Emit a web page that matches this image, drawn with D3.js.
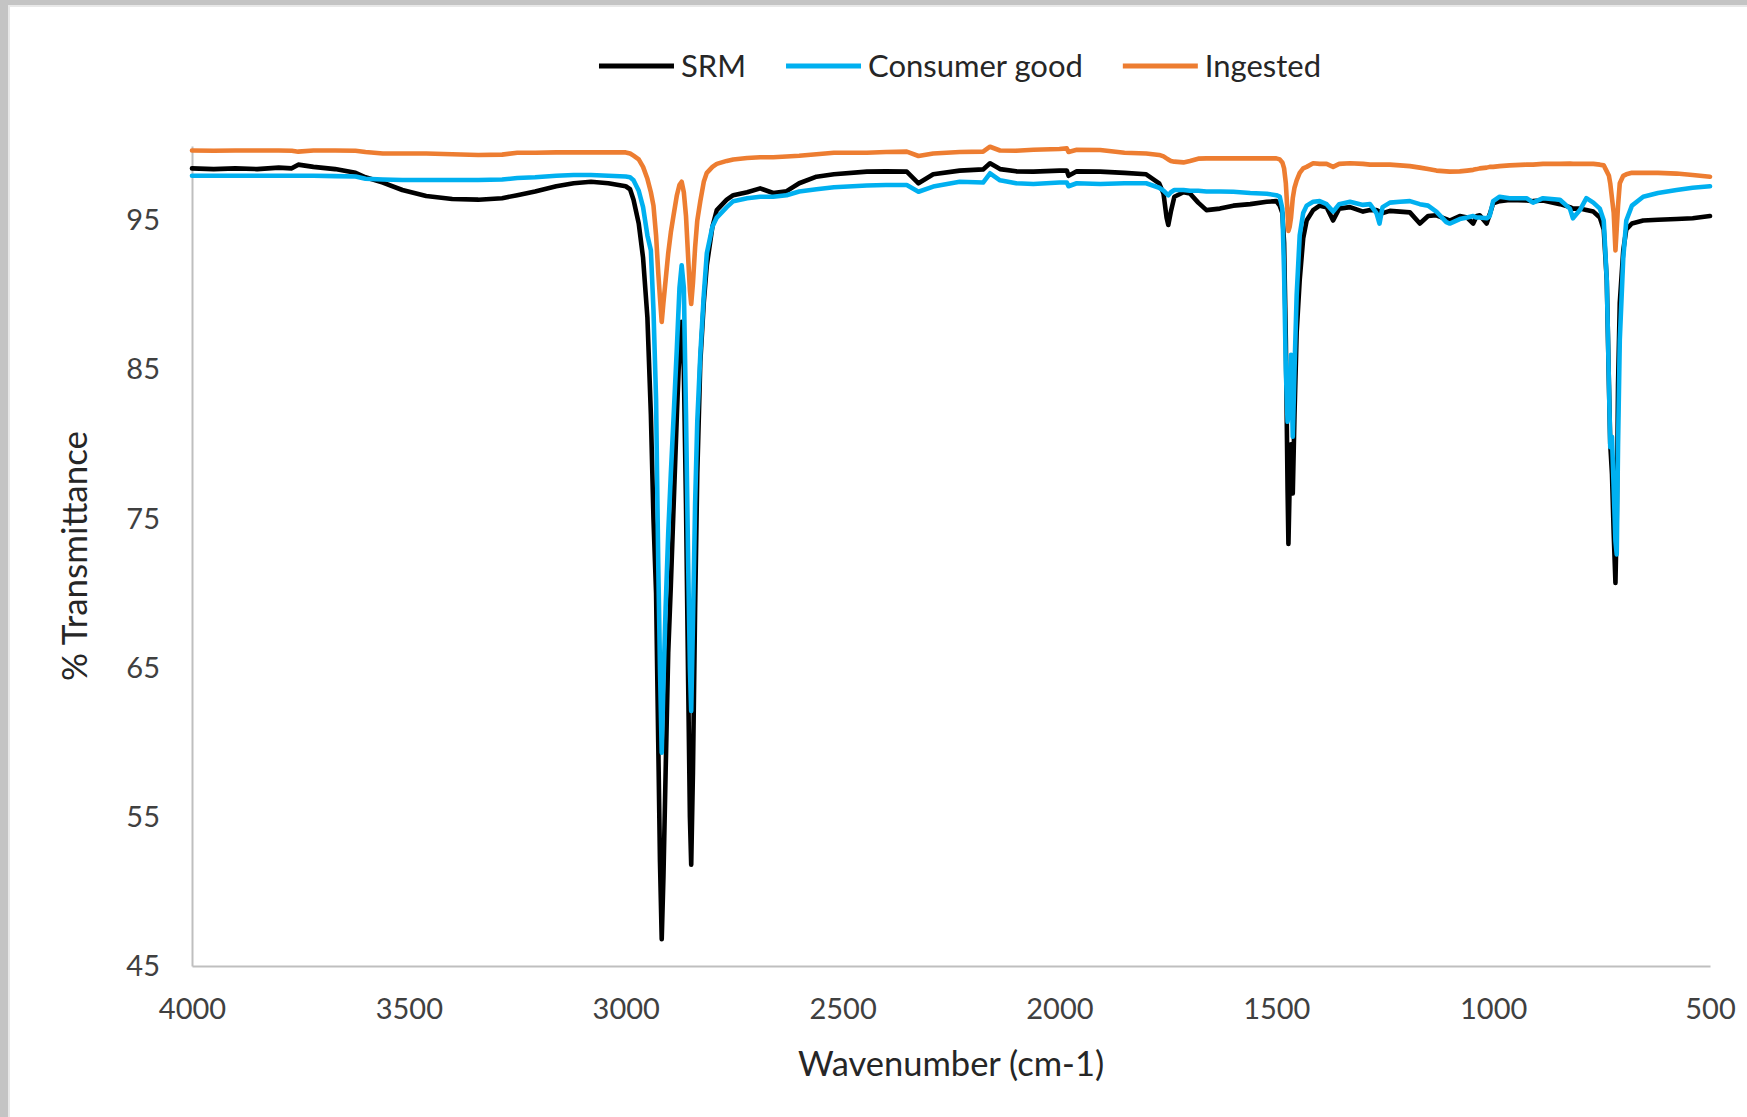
<!DOCTYPE html>
<html>
<head>
<meta charset="utf-8">
<script src="https://cdn.jsdelivr.net/npm/d3@7"></script>
<style>
  html, body { margin: 0; padding: 0; background: #fff; }
  svg { display: block; font-family: Lato, 'Open Sans', sans-serif; }
</style>
</head>
<body>
<div id="chart"></div>
<script>
/*
* FTIR spectra: SRM vs consumer good vs ingested
*/

const wavenumber = [
  4000, 3950, 3900, 3850, 3800, 3770, 3755, 3720, 3670, 3623, 3600, 3560, 3515, 3460, 3400, 3340, 3285, 3250, 3209, 3160,
  3120, 3080, 3040, 3000, 2990, 2982, 2970, 2960, 2950, 2942, 2936, 2930, 2925, 2921, 2917, 2913, 2908, 2902, 2896, 2890,
  2882, 2876, 2871, 2866, 2861, 2856, 2852, 2849, 2845, 2840, 2835, 2828, 2820, 2813, 2800, 2790, 2767, 2752, 2720, 2690,
  2660, 2629, 2600, 2560, 2520, 2444, 2400, 2352, 2325, 2291, 2230, 2176, 2160, 2137, 2100, 2060, 2000, 1983, 1979, 1960,
  1906, 1850, 1800, 1770, 1760, 1753, 1749, 1743, 1735, 1714, 1699, 1680, 1661, 1630, 1599, 1560, 1522, 1500, 1492, 1486,
  1482, 1478, 1474, 1472, 1469, 1466, 1462, 1458, 1453, 1446, 1438, 1430, 1415, 1400, 1384, 1369, 1355, 1330, 1300, 1284,
  1269, 1262, 1255, 1238, 1215, 1192, 1169, 1150, 1131, 1108, 1100, 1077, 1060, 1046, 1038, 1031, 1015, 1008, 1000, 985,
  962, 923, 908, 885, 846, 823, 816, 800, 785, 769, 754, 745, 738, 733, 730, 726, 722, 718, 715, 712,
  708, 700, 693, 680, 654, 620, 577, 540, 500
];

const srm = [
  98.5, 98.45, 98.5, 98.45, 98.55, 98.5, 98.75, 98.6, 98.45, 98.2, 97.9, 97.55, 97.05, 96.65, 96.45, 96.4, 96.5, 96.7, 96.95, 97.3,
  97.5, 97.6, 97.5, 97.3, 97.1, 96.4, 94.8, 92.5, 88.5, 82.0, 75.0, 70.0, 60.0, 52.0, 46.8, 51.0, 58.0, 66.0, 70.5, 75.5,
  82.0, 86.5, 88.2, 85.0, 76.0, 64.0, 55.0, 51.8, 58.0, 69.0, 78.0, 85.5, 89.5, 92.0, 94.6, 95.7, 96.4, 96.7, 96.9, 97.16,
  96.85, 96.97, 97.5, 97.94, 98.1, 98.28, 98.3, 98.28, 97.5, 98.1, 98.35, 98.43, 98.84, 98.45, 98.3, 98.28, 98.35, 98.35, 98.0, 98.3,
  98.28, 98.2, 98.1, 97.5, 96.8, 95.2, 94.7, 95.6, 96.6, 96.9, 96.82, 96.2, 95.7, 95.8, 96.0, 96.1, 96.26, 96.3, 96.0, 95.5,
  93.5, 87.0, 77.0, 73.3, 77.5, 80.0, 76.7, 82.0, 87.5, 91.0, 93.8, 95.0, 95.7, 96.0, 95.9, 95.0, 95.8, 95.9, 95.6, 95.7,
  95.7, 95.6, 95.5, 95.65, 95.6, 95.55, 94.8, 95.3, 95.35, 95.1, 95.0, 95.3, 95.2, 94.8, 95.3, 95.35, 94.8, 95.4, 96.15, 96.3,
  96.38, 96.35, 96.3, 96.35, 96.1, 95.9, 95.8, 95.8, 95.7, 95.6, 95.2, 94.4, 91.0, 84.0, 80.0, 78.0, 74.0, 70.7, 75.0, 84.0,
  89.5, 93.0, 94.4, 94.8, 95.0, 95.05, 95.1, 95.15, 95.3
];

const consumerGood = [
  98.0, 98.0, 98.0, 98.0, 98.0, 98.0, 98.0, 98.0, 97.98, 97.95, 97.8, 97.75, 97.72, 97.72, 97.72, 97.72, 97.75, 97.85, 97.9, 98.0,
  98.05, 98.05, 98.0, 97.95, 97.9, 97.7, 97.0, 95.9, 94.0, 93.0, 89.0, 83.0, 72.0, 65.0, 59.3, 64.0, 69.0, 74.0, 78.0, 81.6,
  86.5, 90.5, 92.0, 90.5, 82.0, 72.0, 65.0, 62.1, 68.0, 76.0, 81.5, 86.0, 90.0, 92.8, 94.6, 95.2, 95.9, 96.3, 96.5, 96.6,
  96.6, 96.7, 96.95, 97.1, 97.23, 97.35, 97.38, 97.38, 96.93, 97.28, 97.6, 97.55, 98.17, 97.7, 97.5, 97.45, 97.55, 97.55, 97.3, 97.5,
  97.45, 97.5, 97.5, 97.2, 97.0, 96.8, 96.7, 96.9, 97.05, 97.05, 97.0, 97.0, 96.95, 96.95, 96.93, 96.85, 96.8, 96.7, 96.6, 95.8,
  91.5, 85.0, 81.5, 82.0, 84.0, 86.0, 80.5, 85.0, 90.0, 94.0, 95.5, 96.0, 96.26, 96.3, 96.1, 95.6, 96.1, 96.26, 96.05, 96.1,
  95.5, 94.8, 95.9, 96.2, 96.26, 96.3, 96.1, 96.0, 95.6, 94.9, 94.8, 95.1, 95.2, 95.3, 95.2, 95.2, 95.15, 95.3, 96.3, 96.6,
  96.5, 96.5, 96.2, 96.5, 96.4, 95.8, 95.15, 95.7, 96.5, 96.2, 95.8, 95.0, 91.0, 84.0, 79.8, 80.5, 77.0, 73.5, 72.6, 80.0,
  87.0, 92.5, 95.0, 96.0, 96.6, 96.85, 97.05, 97.2, 97.3
];

const ingested = [
  99.7, 99.68, 99.7, 99.7, 99.7, 99.68, 99.62, 99.7, 99.7, 99.68, 99.6, 99.5, 99.5, 99.5, 99.45, 99.4, 99.42, 99.55, 99.55, 99.57,
  99.57, 99.57, 99.57, 99.57, 99.5, 99.35, 99.1, 98.6, 97.8, 96.9, 96.0, 94.0, 91.5, 89.8, 88.2, 89.5, 91.0, 92.8, 94.2, 95.3,
  96.7, 97.4, 97.6, 96.9, 95.3, 92.5, 90.3, 89.4, 90.8, 93.2, 95.0, 96.3, 97.6, 98.2, 98.6, 98.8, 99.0, 99.1, 99.2, 99.25,
  99.25, 99.3, 99.35, 99.45, 99.55, 99.55, 99.6, 99.62, 99.33, 99.5, 99.6, 99.62, 99.95, 99.7, 99.68, 99.75, 99.8, 99.84, 99.6, 99.75,
  99.73, 99.55, 99.5, 99.4, 99.3, 99.17, 99.1, 99.0, 98.95, 98.9, 99.0, 99.15, 99.17, 99.17, 99.17, 99.17, 99.17, 99.17, 99.1, 98.9,
  98.5, 97.5, 95.5, 94.3, 94.6, 95.2, 96.5, 97.2, 97.7, 98.2, 98.5, 98.6, 98.84, 98.8, 98.8, 98.6, 98.8, 98.84, 98.8, 98.75,
  98.75, 98.75, 98.75, 98.75, 98.7, 98.65, 98.55, 98.45, 98.35, 98.3, 98.28, 98.3, 98.35, 98.4, 98.45, 98.5, 98.55, 98.6, 98.6, 98.65,
  98.7, 98.75, 98.75, 98.8, 98.8, 98.82, 98.8, 98.8, 98.8, 98.8, 98.75, 98.7, 98.3, 98.0, 97.5, 96.5, 95.5, 93.0, 94.5, 96.0,
  97.5, 98.0, 98.1, 98.2, 98.2, 98.2, 98.15, 98.05, 97.94
];

const seriesNames = ['SRM', 'Consumer good', 'Ingested'];
const xTicks = [4000, 3500, 3000, 2500, 2000, 1500, 1000, 500];
const yTicks = [45, 55, 65, 75, 85, 95];

const COLORS = {
  'SRM': '#000000',
  'Consumer good': '#00B0F0',
  'Ingested': '#ED7D31'
};

const W = 1747, H = 1117;
const margin = { left: 192, right: 37, top: 146, bottom: 151 };

window.onload = function () {
  let svg = d3.select('#chart').append('svg')
    .attr('width', W)
    .attr('height', H);

  // window frame around the chart area
  svg.append('rect').attr('width', W).attr('height', H).attr('fill', '#c4c4c4');
  svg.append('rect').attr('x', 8).attr('y', 5).attr('width', W - 8).attr('height', H - 5).attr('fill', '#e8e8e8');
  svg.append('rect').attr('x', 10).attr('y', 7).attr('width', W - 10).attr('height', H - 7).attr('fill', '#ffffff');

  let x = d3.scaleLinear().domain([4000, 500]).range([margin.left, W - margin.right]);
  let y = d3.scaleLinear().domain([45, 100]).range([H - margin.bottom, margin.top]);

  let yAxis = svg.append('g')
    .attr('transform', 'translate(' + margin.left + ',0)')
    .call(d3.axisLeft(y).tickValues(yTicks).tickSize(0).tickSizeOuter(0).tickPadding(32));

  let xAxis = svg.append('g')
    .attr('transform', 'translate(0,' + (H - margin.bottom) + ')')
    .call(d3.axisBottom(x).tickValues(xTicks).tickFormat(d3.format('d'))
      .tickSize(0).tickSizeOuter(0).tickPadding(32));

  [xAxis, yAxis].forEach(function (g) {
    g.select('.domain').attr('stroke', '#bfbfbf').attr('stroke-width', 2);
    g.selectAll('text')
      .attr('font-size', 29)
      .attr('fill', '#404040')
      .style('font-family', 'Lato, sans-serif');
  });

  let series = [
    { name: 'SRM', values: srm },
    { name: 'Consumer good', values: consumerGood },
    { name: 'Ingested', values: ingested }
  ];

  let line = d3.line()
    .x(function (d, i) { return x(wavenumber[i]); })
    .y(function (d) { return y(d); });

  svg.selectAll('.spectrum')
    .data(series)
    .enter().append('path')
    .attr('class', 'spectrum')
    .attr('d', function (s) { return line(s.values); })
    .attr('fill', 'none')
    .attr('stroke', function (s) { return COLORS[s.name]; })
    .attr('stroke-width', 4.6)
    .attr('stroke-linejoin', 'round')
    .attr('stroke-linecap', 'round');

  // axis titles
  svg.append('text')
    .attr('x', (margin.left + W - margin.right) / 2)
    .attr('y', 1076)
    .attr('text-anchor', 'middle')
    .attr('font-size', 34.5)
    .attr('fill', '#262626')
    .text('Wavenumber (cm-1)');

  svg.append('text')
    .attr('transform', 'translate(87,' + ((margin.top + H - margin.bottom) / 2) + ') rotate(-90)')
    .attr('text-anchor', 'middle')
    .attr('font-size', 35)
    .attr('fill', '#262626')
    .text('% Transmittance');

  drawLegend(svg);
};

function drawLegend(svg) {
  let legY = 66;
  let lineW = 75, gapText = 7, gapItem = 40;
  let g = svg.append('g');

  let items = g.selectAll('.leg')
    .data(seriesNames)
    .enter().append('g')
    .attr('class', 'leg');

  items.append('line')
    .attr('x1', 0).attr('x2', lineW)
    .attr('y1', legY).attr('y2', legY)
    .attr('stroke', function (d) { return COLORS[d]; })
    .attr('stroke-width', 5);

  items.append('text')
    .attr('x', lineW + gapText)
    .attr('y', legY)
    .attr('dy', '0.35em')
    .attr('font-size', 31)
    .attr('fill', '#262626')
    .text(function (d) { return d; });

  let offset = 0;
  let widths = [];
  items.each(function () {
    let tw = d3.select(this).select('text').node().getComputedTextLength();
    widths.push(lineW + gapText + tw);
  });
  let total = d3.sum(widths) + gapItem * (widths.length - 1);
  let start = 960 - total / 2;
  items.attr('transform', function (d, i) {
    let tx = start + offset;
    offset += widths[i] + gapItem;
    return 'translate(' + tx + ',0)';
  });
}
</script>
</body>
</html>
